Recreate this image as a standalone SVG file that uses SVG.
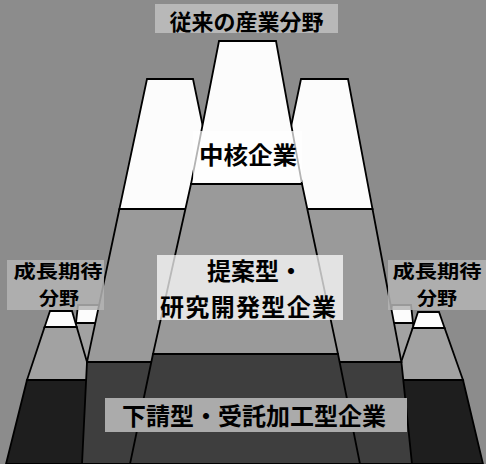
<svg xmlns="http://www.w3.org/2000/svg" width="486" height="464" viewBox="0 0 486 464">
<style>
.b{stroke:#000;stroke-width:1.8;stroke-linejoin:miter}
.w{fill:#fcfcfc}
.g{fill:#9a9a9a}
.pg{fill:#a2a2a2}
.d{fill:#3e3e3e}
.pd{fill:#1e1e1e}
.t{font-family:"Noto Sans CJK JP","Noto Sans CJK SC",sans-serif;font-weight:700;fill:#000}
</style>
<rect width="486" height="464" fill="#8c8c8c"/>
<g id="left-peak-inner">
<polygon class="b pg" points="76,323 102,323 112,400 66,400"/>
<polygon class="b w" points="78,305 100,305 102,323 76,323"/>
</g>
<g id="left-peak-outer">
<polygon class="b pd" points="27,380 92.3,380 115,464 6,464"/>
<polygon class="b pg" points="44.6,327 76.7,327 92.3,380 27,380"/>
<polygon class="b w" points="50,311 72,311 76.7,327 44.6,327"/>
</g>
<g id="right-peak-inner">
<polygon class="b pg" points="389,323 413,323 420,400 378,400"/>
<polygon class="b w" points="392,305 411,305 413,323 389,323"/>
</g>
<g id="right-peak-outer">
<polygon class="b pd" points="395,380 463,380 483,464 380,464"/>
<polygon class="b pg" points="412.7,328 444.6,328 463,380 395,380"/>
<polygon class="b w" points="418,312 439,312 444.6,328 412.7,328"/>
</g>
<g id="left-mountain">
<polygon class="b d" points="87,362 252,362 274,464 82,464"/>
<polygon class="b g" points="119.4,209 220,209 252,362 87,362"/>
<polygon class="b w" points="147,79 193,79 220,209 119.4,209"/>
</g>
<g id="right-mountain">
<polygon class="b d" points="241.6,362 401.4,362 412,464 220,464"/>
<polygon class="b g" points="273.7,209 372.5,209 401.4,362 241.6,362"/>
<polygon class="b w" points="301,79 348,79 372.5,209 273.7,209"/>
</g>
<g id="center-mountain">
<polygon class="b d" points="153,354 338,354 360,464 130,464"/>
<polygon class="b g" points="191,184 302,184 338,354 153,354"/>
<polygon class="b w" points="219,41 276,41 302,184 191,184"/>
</g>
<g id="label-core">
<rect x="193" y="131" width="109" height="51" fill="#fff" opacity="0.7"/>
<text class="t" x="199" y="164" font-size="24" textLength="98" lengthAdjust="spacingAndGlyphs">中核企業</text>
</g>
<g id="label-traditional">
<rect x="155" y="4" width="183" height="29" fill="#b8b8b8"/>
<text class="t" x="246.5" y="30" font-size="22" text-anchor="middle">従来の産業分野</text>
</g>
<g id="label-proposal">
<rect x="157" y="255" width="186" height="65" fill="#fff" opacity="0.72"/>
<text class="t" x="207" y="280" font-size="24">提案型・</text>
<text class="t" x="160" y="316" font-size="24" textLength="176" lengthAdjust="spacing">研究開発型企業</text>
</g>
<g id="label-growth-left">
<rect x="7" y="260" width="97" height="50" fill="#b4b4b4" opacity="0.85"/>
<text class="t" x="58" y="278" font-size="18" text-anchor="middle" textLength="89" lengthAdjust="spacingAndGlyphs">成長期待</text>
<text class="t" x="59" y="305" font-size="18" text-anchor="middle" textLength="40" lengthAdjust="spacingAndGlyphs">分野</text>
</g>
<g id="label-growth-right">
<rect x="388" y="260" width="98" height="50" fill="#b4b4b4" opacity="0.85"/>
<text class="t" x="437" y="278" font-size="18" text-anchor="middle" textLength="89" lengthAdjust="spacingAndGlyphs">成長期待</text>
<text class="t" x="437" y="305" font-size="18" text-anchor="middle" textLength="40" lengthAdjust="spacingAndGlyphs">分野</text>
</g>
<g id="label-subcontract">
<rect x="105" y="398" width="302" height="34" fill="#ababab"/>
<text class="t" x="122" y="425" font-size="24">下請型・受託加工型企業</text>
</g>
<g id="connectors"/>
</svg>
